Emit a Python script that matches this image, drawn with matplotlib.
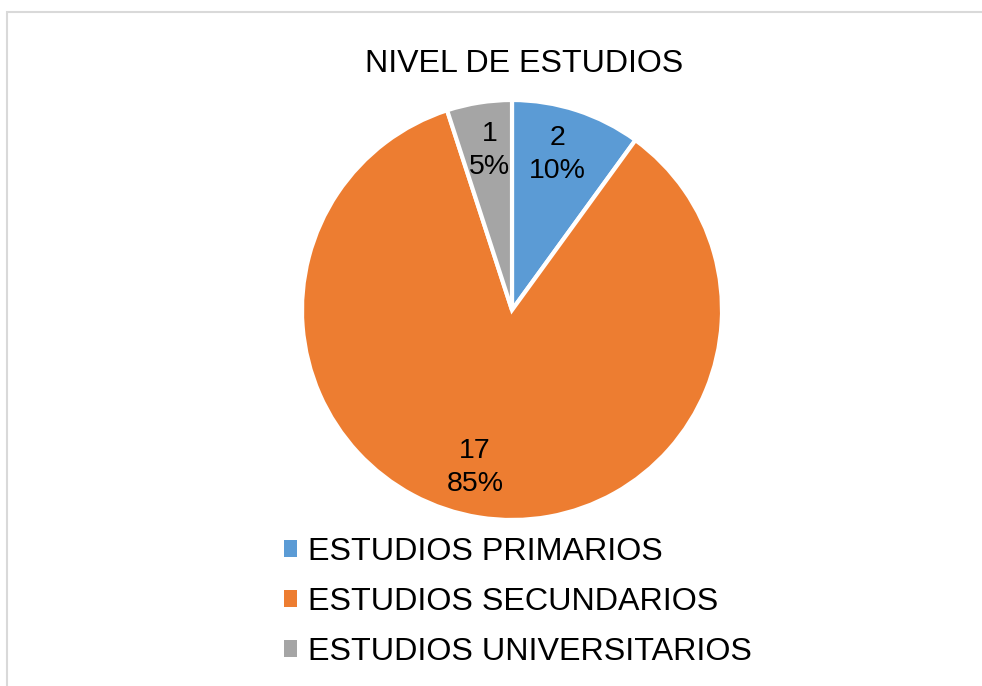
import matplotlib.pyplot as plt
from matplotlib.patches import Patch, Rectangle

plt.rcParams['font.family'] = ['Liberation Sans', 'DejaVu Sans']

categories = ['ESTUDIOS PRIMARIOS', 'ESTUDIOS SECUNDARIOS', 'ESTUDIOS UNIVERSITARIOS']
counts = [2, 17, 1]
colors = ['#5B9BD5', '#ED7D31', '#A5A5A5']
title = 'NIVEL DE ESTUDIOS'


def label_for(pct):
    n = int(round(pct * sum(counts) / 100.0))
    return '%d\n%d%%' % (n, round(pct))


fig = plt.figure(figsize=(9.82, 6.86), dpi=100)

# light grey chart border (runs off the right and bottom edges)
fig.patches.append(Rectangle((7 / 982, -0.05), 1.1, 1 - 12 / 686 + 0.05,
                             transform=fig.transFigure, fill=False,
                             edgecolor='#d9d9d9', linewidth=1.5))

ax = fig.add_axes([(512 - 210) / 982, (686 - 520) / 686, 420 / 982, 420 / 686])
wedges, texts, autotexts = ax.pie(
    counts, colors=colors, startangle=90, counterclock=False,
    autopct=label_for, pctdistance=0.77,
    wedgeprops={'edgecolor': 'white', 'linewidth': 3},
    textprops={'fontsize': 20.5, 'color': 'black', 'linespacing': 1.35})
for w in wedges:
    w.set_clip_on(False)

# Excel-style label nudges
x, y = autotexts[0].get_position()
autotexts[0].set_position((x - 0.02, y + 0.01))
x, y = autotexts[1].get_position()
autotexts[1].set_position((x - 0.055, y + 0.01))
x, y = autotexts[2].get_position()
autotexts[2].set_position((x + 0.015, y))

ax.set_xlim(-1, 1)
ax.set_ylim(-1, 1)
ax.set_aspect('equal')

fig.text(524 / 982, 1 - 64 / 686, title, ha='center', va='center', fontsize=23.1)

handles = [Patch(facecolor=c, edgecolor='none') for c in colors]
fig.legend(handles, categories, loc='upper left',
           bbox_to_anchor=(255 / 982, 1 - 508 / 686), frameon=False,
           fontsize=23.2, handlelength=0.4, handleheight=0.4,
           handletextpad=0.34, labelspacing=0.62)

fig.savefig('out.png', dpi=100)
